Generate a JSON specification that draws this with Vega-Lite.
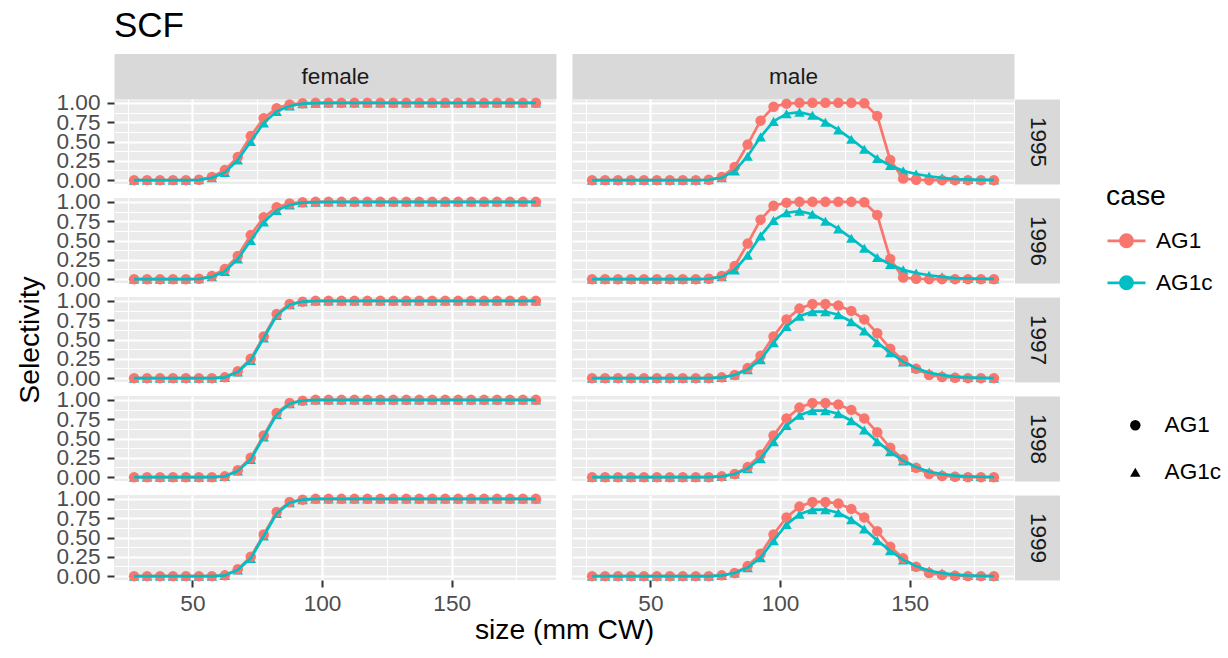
{
"$schema":"https://vega.github.io/schema/vega-lite/v6.json",
"title":{"text":"SCF","anchor":"start","frame":"group","fontSize":35,"fontWeight":"normal","color":"#000000","offset":21},
"padding":{"left":15,"top":9,"right":5,"bottom":5},
"data":{"values":[
{"sex":"female","year":1995,"size":27.5,"AG1":0,"AG1c":0},{"sex":"female","year":1995,"size":32.5,"AG1":0,"AG1c":0},{"sex":"female","year":1995,"size":37.5,"AG1":0,"AG1c":0},{"sex":"female","year":1995,"size":42.5,"AG1":0,"AG1c":0},{"sex":"female","year":1995,"size":47.5,"AG1":0,"AG1c":0},{"sex":"female","year":1995,"size":52.5,"AG1":0.005,"AG1c":0.004},{"sex":"female","year":1995,"size":57.5,"AG1":0.04,"AG1c":0.03},{"sex":"female","year":1995,"size":62.5,"AG1":0.13,"AG1c":0.10},{"sex":"female","year":1995,"size":67.5,"AG1":0.30,"AG1c":0.26},{"sex":"female","year":1995,"size":72.5,"AG1":0.57,"AG1c":0.50},{"sex":"female","year":1995,"size":77.5,"AG1":0.80,"AG1c":0.74},{"sex":"female","year":1995,"size":82.5,"AG1":0.93,"AG1c":0.89},{"sex":"female","year":1995,"size":87.5,"AG1":0.98,"AG1c":0.96},{"sex":"female","year":1995,"size":92.5,"AG1":0.995,"AG1c":0.99},{"sex":"female","year":1995,"size":97.5,"AG1":1,"AG1c":0.997},{"sex":"female","year":1995,"size":102.5,"AG1":1,"AG1c":1},{"sex":"female","year":1995,"size":107.5,"AG1":1,"AG1c":1},{"sex":"female","year":1995,"size":112.5,"AG1":1,"AG1c":1},{"sex":"female","year":1995,"size":117.5,"AG1":1,"AG1c":1},{"sex":"female","year":1995,"size":122.5,"AG1":1,"AG1c":1},{"sex":"female","year":1995,"size":127.5,"AG1":1,"AG1c":1},{"sex":"female","year":1995,"size":132.5,"AG1":1,"AG1c":1},{"sex":"female","year":1995,"size":137.5,"AG1":1,"AG1c":1},{"sex":"female","year":1995,"size":142.5,"AG1":1,"AG1c":1},{"sex":"female","year":1995,"size":147.5,"AG1":1,"AG1c":1},{"sex":"female","year":1995,"size":152.5,"AG1":1,"AG1c":1},{"sex":"female","year":1995,"size":157.5,"AG1":1,"AG1c":1},{"sex":"female","year":1995,"size":162.5,"AG1":1,"AG1c":1},{"sex":"female","year":1995,"size":167.5,"AG1":1,"AG1c":1},{"sex":"female","year":1995,"size":172.5,"AG1":1,"AG1c":1},{"sex":"female","year":1995,"size":177.5,"AG1":1,"AG1c":1},{"sex":"female","year":1995,"size":182.5,"AG1":1,"AG1c":1},
{"sex":"female","year":1996,"size":27.5,"AG1":0,"AG1c":0},{"sex":"female","year":1996,"size":32.5,"AG1":0,"AG1c":0},{"sex":"female","year":1996,"size":37.5,"AG1":0,"AG1c":0},{"sex":"female","year":1996,"size":42.5,"AG1":0,"AG1c":0},{"sex":"female","year":1996,"size":47.5,"AG1":0,"AG1c":0},{"sex":"female","year":1996,"size":52.5,"AG1":0.005,"AG1c":0.004},{"sex":"female","year":1996,"size":57.5,"AG1":0.04,"AG1c":0.03},{"sex":"female","year":1996,"size":62.5,"AG1":0.13,"AG1c":0.10},{"sex":"female","year":1996,"size":67.5,"AG1":0.30,"AG1c":0.26},{"sex":"female","year":1996,"size":72.5,"AG1":0.57,"AG1c":0.50},{"sex":"female","year":1996,"size":77.5,"AG1":0.80,"AG1c":0.74},{"sex":"female","year":1996,"size":82.5,"AG1":0.93,"AG1c":0.89},{"sex":"female","year":1996,"size":87.5,"AG1":0.98,"AG1c":0.96},{"sex":"female","year":1996,"size":92.5,"AG1":0.995,"AG1c":0.99},{"sex":"female","year":1996,"size":97.5,"AG1":1,"AG1c":0.997},{"sex":"female","year":1996,"size":102.5,"AG1":1,"AG1c":1},{"sex":"female","year":1996,"size":107.5,"AG1":1,"AG1c":1},{"sex":"female","year":1996,"size":112.5,"AG1":1,"AG1c":1},{"sex":"female","year":1996,"size":117.5,"AG1":1,"AG1c":1},{"sex":"female","year":1996,"size":122.5,"AG1":1,"AG1c":1},{"sex":"female","year":1996,"size":127.5,"AG1":1,"AG1c":1},{"sex":"female","year":1996,"size":132.5,"AG1":1,"AG1c":1},{"sex":"female","year":1996,"size":137.5,"AG1":1,"AG1c":1},{"sex":"female","year":1996,"size":142.5,"AG1":1,"AG1c":1},{"sex":"female","year":1996,"size":147.5,"AG1":1,"AG1c":1},{"sex":"female","year":1996,"size":152.5,"AG1":1,"AG1c":1},{"sex":"female","year":1996,"size":157.5,"AG1":1,"AG1c":1},{"sex":"female","year":1996,"size":162.5,"AG1":1,"AG1c":1},{"sex":"female","year":1996,"size":167.5,"AG1":1,"AG1c":1},{"sex":"female","year":1996,"size":172.5,"AG1":1,"AG1c":1},{"sex":"female","year":1996,"size":177.5,"AG1":1,"AG1c":1},{"sex":"female","year":1996,"size":182.5,"AG1":1,"AG1c":1},
{"sex":"female","year":1997,"size":27.5,"AG1":0,"AG1c":0},{"sex":"female","year":1997,"size":32.5,"AG1":0,"AG1c":0},{"sex":"female","year":1997,"size":37.5,"AG1":0,"AG1c":0},{"sex":"female","year":1997,"size":42.5,"AG1":0,"AG1c":0},{"sex":"female","year":1997,"size":47.5,"AG1":0,"AG1c":0},{"sex":"female","year":1997,"size":52.5,"AG1":0,"AG1c":0},{"sex":"female","year":1997,"size":57.5,"AG1":0,"AG1c":0},{"sex":"female","year":1997,"size":62.5,"AG1":0.01,"AG1c":0.01},{"sex":"female","year":1997,"size":67.5,"AG1":0.09,"AG1c":0.08},{"sex":"female","year":1997,"size":72.5,"AG1":0.25,"AG1c":0.23},{"sex":"female","year":1997,"size":77.5,"AG1":0.54,"AG1c":0.52},{"sex":"female","year":1997,"size":82.5,"AG1":0.83,"AG1c":0.81},{"sex":"female","year":1997,"size":87.5,"AG1":0.96,"AG1c":0.95},{"sex":"female","year":1997,"size":92.5,"AG1":0.99,"AG1c":0.99},{"sex":"female","year":1997,"size":97.5,"AG1":1,"AG1c":1},{"sex":"female","year":1997,"size":102.5,"AG1":1,"AG1c":1},{"sex":"female","year":1997,"size":107.5,"AG1":1,"AG1c":1},{"sex":"female","year":1997,"size":112.5,"AG1":1,"AG1c":1},{"sex":"female","year":1997,"size":117.5,"AG1":1,"AG1c":1},{"sex":"female","year":1997,"size":122.5,"AG1":1,"AG1c":1},{"sex":"female","year":1997,"size":127.5,"AG1":1,"AG1c":1},{"sex":"female","year":1997,"size":132.5,"AG1":1,"AG1c":1},{"sex":"female","year":1997,"size":137.5,"AG1":1,"AG1c":1},{"sex":"female","year":1997,"size":142.5,"AG1":1,"AG1c":1},{"sex":"female","year":1997,"size":147.5,"AG1":1,"AG1c":1},{"sex":"female","year":1997,"size":152.5,"AG1":1,"AG1c":1},{"sex":"female","year":1997,"size":157.5,"AG1":1,"AG1c":1},{"sex":"female","year":1997,"size":162.5,"AG1":1,"AG1c":1},{"sex":"female","year":1997,"size":167.5,"AG1":1,"AG1c":1},{"sex":"female","year":1997,"size":172.5,"AG1":1,"AG1c":1},{"sex":"female","year":1997,"size":177.5,"AG1":1,"AG1c":1},{"sex":"female","year":1997,"size":182.5,"AG1":1,"AG1c":1},
{"sex":"female","year":1998,"size":27.5,"AG1":0,"AG1c":0},{"sex":"female","year":1998,"size":32.5,"AG1":0,"AG1c":0},{"sex":"female","year":1998,"size":37.5,"AG1":0,"AG1c":0},{"sex":"female","year":1998,"size":42.5,"AG1":0,"AG1c":0},{"sex":"female","year":1998,"size":47.5,"AG1":0,"AG1c":0},{"sex":"female","year":1998,"size":52.5,"AG1":0,"AG1c":0},{"sex":"female","year":1998,"size":57.5,"AG1":0,"AG1c":0},{"sex":"female","year":1998,"size":62.5,"AG1":0.01,"AG1c":0.01},{"sex":"female","year":1998,"size":67.5,"AG1":0.09,"AG1c":0.08},{"sex":"female","year":1998,"size":72.5,"AG1":0.25,"AG1c":0.23},{"sex":"female","year":1998,"size":77.5,"AG1":0.54,"AG1c":0.52},{"sex":"female","year":1998,"size":82.5,"AG1":0.83,"AG1c":0.81},{"sex":"female","year":1998,"size":87.5,"AG1":0.96,"AG1c":0.95},{"sex":"female","year":1998,"size":92.5,"AG1":0.99,"AG1c":0.99},{"sex":"female","year":1998,"size":97.5,"AG1":1,"AG1c":1},{"sex":"female","year":1998,"size":102.5,"AG1":1,"AG1c":1},{"sex":"female","year":1998,"size":107.5,"AG1":1,"AG1c":1},{"sex":"female","year":1998,"size":112.5,"AG1":1,"AG1c":1},{"sex":"female","year":1998,"size":117.5,"AG1":1,"AG1c":1},{"sex":"female","year":1998,"size":122.5,"AG1":1,"AG1c":1},{"sex":"female","year":1998,"size":127.5,"AG1":1,"AG1c":1},{"sex":"female","year":1998,"size":132.5,"AG1":1,"AG1c":1},{"sex":"female","year":1998,"size":137.5,"AG1":1,"AG1c":1},{"sex":"female","year":1998,"size":142.5,"AG1":1,"AG1c":1},{"sex":"female","year":1998,"size":147.5,"AG1":1,"AG1c":1},{"sex":"female","year":1998,"size":152.5,"AG1":1,"AG1c":1},{"sex":"female","year":1998,"size":157.5,"AG1":1,"AG1c":1},{"sex":"female","year":1998,"size":162.5,"AG1":1,"AG1c":1},{"sex":"female","year":1998,"size":167.5,"AG1":1,"AG1c":1},{"sex":"female","year":1998,"size":172.5,"AG1":1,"AG1c":1},{"sex":"female","year":1998,"size":177.5,"AG1":1,"AG1c":1},{"sex":"female","year":1998,"size":182.5,"AG1":1,"AG1c":1},
{"sex":"female","year":1999,"size":27.5,"AG1":0,"AG1c":0},{"sex":"female","year":1999,"size":32.5,"AG1":0,"AG1c":0},{"sex":"female","year":1999,"size":37.5,"AG1":0,"AG1c":0},{"sex":"female","year":1999,"size":42.5,"AG1":0,"AG1c":0},{"sex":"female","year":1999,"size":47.5,"AG1":0,"AG1c":0},{"sex":"female","year":1999,"size":52.5,"AG1":0,"AG1c":0},{"sex":"female","year":1999,"size":57.5,"AG1":0,"AG1c":0},{"sex":"female","year":1999,"size":62.5,"AG1":0.01,"AG1c":0.01},{"sex":"female","year":1999,"size":67.5,"AG1":0.09,"AG1c":0.08},{"sex":"female","year":1999,"size":72.5,"AG1":0.25,"AG1c":0.23},{"sex":"female","year":1999,"size":77.5,"AG1":0.54,"AG1c":0.52},{"sex":"female","year":1999,"size":82.5,"AG1":0.83,"AG1c":0.81},{"sex":"female","year":1999,"size":87.5,"AG1":0.96,"AG1c":0.95},{"sex":"female","year":1999,"size":92.5,"AG1":0.99,"AG1c":0.99},{"sex":"female","year":1999,"size":97.5,"AG1":1,"AG1c":1},{"sex":"female","year":1999,"size":102.5,"AG1":1,"AG1c":1},{"sex":"female","year":1999,"size":107.5,"AG1":1,"AG1c":1},{"sex":"female","year":1999,"size":112.5,"AG1":1,"AG1c":1},{"sex":"female","year":1999,"size":117.5,"AG1":1,"AG1c":1},{"sex":"female","year":1999,"size":122.5,"AG1":1,"AG1c":1},{"sex":"female","year":1999,"size":127.5,"AG1":1,"AG1c":1},{"sex":"female","year":1999,"size":132.5,"AG1":1,"AG1c":1},{"sex":"female","year":1999,"size":137.5,"AG1":1,"AG1c":1},{"sex":"female","year":1999,"size":142.5,"AG1":1,"AG1c":1},{"sex":"female","year":1999,"size":147.5,"AG1":1,"AG1c":1},{"sex":"female","year":1999,"size":152.5,"AG1":1,"AG1c":1},{"sex":"female","year":1999,"size":157.5,"AG1":1,"AG1c":1},{"sex":"female","year":1999,"size":162.5,"AG1":1,"AG1c":1},{"sex":"female","year":1999,"size":167.5,"AG1":1,"AG1c":1},{"sex":"female","year":1999,"size":172.5,"AG1":1,"AG1c":1},{"sex":"female","year":1999,"size":177.5,"AG1":1,"AG1c":1},{"sex":"female","year":1999,"size":182.5,"AG1":1,"AG1c":1},
{"sex":"male","year":1995,"size":27.5,"AG1":0,"AG1c":0},{"sex":"male","year":1995,"size":32.5,"AG1":0,"AG1c":0},{"sex":"male","year":1995,"size":37.5,"AG1":0,"AG1c":0},{"sex":"male","year":1995,"size":42.5,"AG1":0,"AG1c":0},{"sex":"male","year":1995,"size":47.5,"AG1":0,"AG1c":0},{"sex":"male","year":1995,"size":52.5,"AG1":0,"AG1c":0},{"sex":"male","year":1995,"size":57.5,"AG1":0,"AG1c":0},{"sex":"male","year":1995,"size":62.5,"AG1":0,"AG1c":0},{"sex":"male","year":1995,"size":67.5,"AG1":0,"AG1c":0},{"sex":"male","year":1995,"size":72.5,"AG1":0.005,"AG1c":0.005},{"sex":"male","year":1995,"size":77.5,"AG1":0.04,"AG1c":0.03},{"sex":"male","year":1995,"size":82.5,"AG1":0.17,"AG1c":0.12},{"sex":"male","year":1995,"size":87.5,"AG1":0.46,"AG1c":0.31},{"sex":"male","year":1995,"size":92.5,"AG1":0.77,"AG1c":0.56},{"sex":"male","year":1995,"size":97.5,"AG1":0.95,"AG1c":0.76},{"sex":"male","year":1995,"size":102.5,"AG1":0.99,"AG1c":0.86},{"sex":"male","year":1995,"size":107.5,"AG1":1,"AG1c":0.88},{"sex":"male","year":1995,"size":112.5,"AG1":1,"AG1c":0.84},{"sex":"male","year":1995,"size":117.5,"AG1":1,"AG1c":0.75},{"sex":"male","year":1995,"size":122.5,"AG1":1,"AG1c":0.65},{"sex":"male","year":1995,"size":127.5,"AG1":1,"AG1c":0.53},{"sex":"male","year":1995,"size":132.5,"AG1":0.995,"AG1c":0.40},{"sex":"male","year":1995,"size":137.5,"AG1":0.83,"AG1c":0.28},{"sex":"male","year":1995,"size":142.5,"AG1":0.26,"AG1c":0.19},{"sex":"male","year":1995,"size":147.5,"AG1":0.02,"AG1c":0.12},{"sex":"male","year":1995,"size":152.5,"AG1":0.005,"AG1c":0.08},{"sex":"male","year":1995,"size":157.5,"AG1":0,"AG1c":0.05},{"sex":"male","year":1995,"size":162.5,"AG1":0,"AG1c":0.03},{"sex":"male","year":1995,"size":167.5,"AG1":0,"AG1c":0.015},{"sex":"male","year":1995,"size":172.5,"AG1":0,"AG1c":0.01},{"sex":"male","year":1995,"size":177.5,"AG1":0,"AG1c":0.005},{"sex":"male","year":1995,"size":182.5,"AG1":0,"AG1c":0.003},
{"sex":"male","year":1996,"size":27.5,"AG1":0,"AG1c":0},{"sex":"male","year":1996,"size":32.5,"AG1":0,"AG1c":0},{"sex":"male","year":1996,"size":37.5,"AG1":0,"AG1c":0},{"sex":"male","year":1996,"size":42.5,"AG1":0,"AG1c":0},{"sex":"male","year":1996,"size":47.5,"AG1":0,"AG1c":0},{"sex":"male","year":1996,"size":52.5,"AG1":0,"AG1c":0},{"sex":"male","year":1996,"size":57.5,"AG1":0,"AG1c":0},{"sex":"male","year":1996,"size":62.5,"AG1":0,"AG1c":0},{"sex":"male","year":1996,"size":67.5,"AG1":0,"AG1c":0},{"sex":"male","year":1996,"size":72.5,"AG1":0.005,"AG1c":0.005},{"sex":"male","year":1996,"size":77.5,"AG1":0.04,"AG1c":0.03},{"sex":"male","year":1996,"size":82.5,"AG1":0.17,"AG1c":0.12},{"sex":"male","year":1996,"size":87.5,"AG1":0.46,"AG1c":0.31},{"sex":"male","year":1996,"size":92.5,"AG1":0.77,"AG1c":0.56},{"sex":"male","year":1996,"size":97.5,"AG1":0.95,"AG1c":0.76},{"sex":"male","year":1996,"size":102.5,"AG1":0.99,"AG1c":0.86},{"sex":"male","year":1996,"size":107.5,"AG1":1,"AG1c":0.88},{"sex":"male","year":1996,"size":112.5,"AG1":1,"AG1c":0.84},{"sex":"male","year":1996,"size":117.5,"AG1":1,"AG1c":0.75},{"sex":"male","year":1996,"size":122.5,"AG1":1,"AG1c":0.65},{"sex":"male","year":1996,"size":127.5,"AG1":1,"AG1c":0.53},{"sex":"male","year":1996,"size":132.5,"AG1":0.995,"AG1c":0.40},{"sex":"male","year":1996,"size":137.5,"AG1":0.83,"AG1c":0.28},{"sex":"male","year":1996,"size":142.5,"AG1":0.26,"AG1c":0.19},{"sex":"male","year":1996,"size":147.5,"AG1":0.02,"AG1c":0.12},{"sex":"male","year":1996,"size":152.5,"AG1":0.005,"AG1c":0.08},{"sex":"male","year":1996,"size":157.5,"AG1":0,"AG1c":0.05},{"sex":"male","year":1996,"size":162.5,"AG1":0,"AG1c":0.03},{"sex":"male","year":1996,"size":167.5,"AG1":0,"AG1c":0.015},{"sex":"male","year":1996,"size":172.5,"AG1":0,"AG1c":0.01},{"sex":"male","year":1996,"size":177.5,"AG1":0,"AG1c":0.005},{"sex":"male","year":1996,"size":182.5,"AG1":0,"AG1c":0.003},
{"sex":"male","year":1997,"size":27.5,"AG1":0,"AG1c":0},{"sex":"male","year":1997,"size":32.5,"AG1":0,"AG1c":0},{"sex":"male","year":1997,"size":37.5,"AG1":0,"AG1c":0},{"sex":"male","year":1997,"size":42.5,"AG1":0,"AG1c":0},{"sex":"male","year":1997,"size":47.5,"AG1":0,"AG1c":0},{"sex":"male","year":1997,"size":52.5,"AG1":0,"AG1c":0},{"sex":"male","year":1997,"size":57.5,"AG1":0,"AG1c":0},{"sex":"male","year":1997,"size":62.5,"AG1":0,"AG1c":0},{"sex":"male","year":1997,"size":67.5,"AG1":0,"AG1c":0},{"sex":"male","year":1997,"size":72.5,"AG1":0,"AG1c":0},{"sex":"male","year":1997,"size":77.5,"AG1":0.01,"AG1c":0.01},{"sex":"male","year":1997,"size":82.5,"AG1":0.04,"AG1c":0.04},{"sex":"male","year":1997,"size":87.5,"AG1":0.13,"AG1c":0.11},{"sex":"male","year":1997,"size":92.5,"AG1":0.29,"AG1c":0.24},{"sex":"male","year":1997,"size":97.5,"AG1":0.54,"AG1c":0.46},{"sex":"male","year":1997,"size":102.5,"AG1":0.76,"AG1c":0.67},{"sex":"male","year":1997,"size":107.5,"AG1":0.90,"AG1c":0.80},{"sex":"male","year":1997,"size":112.5,"AG1":0.96,"AG1c":0.86},{"sex":"male","year":1997,"size":117.5,"AG1":0.96,"AG1c":0.86},{"sex":"male","year":1997,"size":122.5,"AG1":0.94,"AG1c":0.82},{"sex":"male","year":1997,"size":127.5,"AG1":0.87,"AG1c":0.73},{"sex":"male","year":1997,"size":132.5,"AG1":0.76,"AG1c":0.61},{"sex":"male","year":1997,"size":137.5,"AG1":0.58,"AG1c":0.46},{"sex":"male","year":1997,"size":142.5,"AG1":0.38,"AG1c":0.33},{"sex":"male","year":1997,"size":147.5,"AG1":0.23,"AG1c":0.21},{"sex":"male","year":1997,"size":152.5,"AG1":0.12,"AG1c":0.13},{"sex":"male","year":1997,"size":157.5,"AG1":0.04,"AG1c":0.07},{"sex":"male","year":1997,"size":162.5,"AG1":0.015,"AG1c":0.04},{"sex":"male","year":1997,"size":167.5,"AG1":0.005,"AG1c":0.02},{"sex":"male","year":1997,"size":172.5,"AG1":0,"AG1c":0.01},{"sex":"male","year":1997,"size":177.5,"AG1":0,"AG1c":0.005},{"sex":"male","year":1997,"size":182.5,"AG1":0,"AG1c":0},
{"sex":"male","year":1998,"size":27.5,"AG1":0,"AG1c":0},{"sex":"male","year":1998,"size":32.5,"AG1":0,"AG1c":0},{"sex":"male","year":1998,"size":37.5,"AG1":0,"AG1c":0},{"sex":"male","year":1998,"size":42.5,"AG1":0,"AG1c":0},{"sex":"male","year":1998,"size":47.5,"AG1":0,"AG1c":0},{"sex":"male","year":1998,"size":52.5,"AG1":0,"AG1c":0},{"sex":"male","year":1998,"size":57.5,"AG1":0,"AG1c":0},{"sex":"male","year":1998,"size":62.5,"AG1":0,"AG1c":0},{"sex":"male","year":1998,"size":67.5,"AG1":0,"AG1c":0},{"sex":"male","year":1998,"size":72.5,"AG1":0,"AG1c":0},{"sex":"male","year":1998,"size":77.5,"AG1":0.01,"AG1c":0.01},{"sex":"male","year":1998,"size":82.5,"AG1":0.04,"AG1c":0.04},{"sex":"male","year":1998,"size":87.5,"AG1":0.13,"AG1c":0.11},{"sex":"male","year":1998,"size":92.5,"AG1":0.29,"AG1c":0.24},{"sex":"male","year":1998,"size":97.5,"AG1":0.54,"AG1c":0.46},{"sex":"male","year":1998,"size":102.5,"AG1":0.76,"AG1c":0.67},{"sex":"male","year":1998,"size":107.5,"AG1":0.90,"AG1c":0.80},{"sex":"male","year":1998,"size":112.5,"AG1":0.96,"AG1c":0.86},{"sex":"male","year":1998,"size":117.5,"AG1":0.96,"AG1c":0.86},{"sex":"male","year":1998,"size":122.5,"AG1":0.94,"AG1c":0.82},{"sex":"male","year":1998,"size":127.5,"AG1":0.87,"AG1c":0.73},{"sex":"male","year":1998,"size":132.5,"AG1":0.76,"AG1c":0.61},{"sex":"male","year":1998,"size":137.5,"AG1":0.58,"AG1c":0.46},{"sex":"male","year":1998,"size":142.5,"AG1":0.38,"AG1c":0.33},{"sex":"male","year":1998,"size":147.5,"AG1":0.23,"AG1c":0.21},{"sex":"male","year":1998,"size":152.5,"AG1":0.12,"AG1c":0.13},{"sex":"male","year":1998,"size":157.5,"AG1":0.04,"AG1c":0.07},{"sex":"male","year":1998,"size":162.5,"AG1":0.015,"AG1c":0.04},{"sex":"male","year":1998,"size":167.5,"AG1":0.005,"AG1c":0.02},{"sex":"male","year":1998,"size":172.5,"AG1":0,"AG1c":0.01},{"sex":"male","year":1998,"size":177.5,"AG1":0,"AG1c":0.005},{"sex":"male","year":1998,"size":182.5,"AG1":0,"AG1c":0},
{"sex":"male","year":1999,"size":27.5,"AG1":0,"AG1c":0},{"sex":"male","year":1999,"size":32.5,"AG1":0,"AG1c":0},{"sex":"male","year":1999,"size":37.5,"AG1":0,"AG1c":0},{"sex":"male","year":1999,"size":42.5,"AG1":0,"AG1c":0},{"sex":"male","year":1999,"size":47.5,"AG1":0,"AG1c":0},{"sex":"male","year":1999,"size":52.5,"AG1":0,"AG1c":0},{"sex":"male","year":1999,"size":57.5,"AG1":0,"AG1c":0},{"sex":"male","year":1999,"size":62.5,"AG1":0,"AG1c":0},{"sex":"male","year":1999,"size":67.5,"AG1":0,"AG1c":0},{"sex":"male","year":1999,"size":72.5,"AG1":0,"AG1c":0},{"sex":"male","year":1999,"size":77.5,"AG1":0.01,"AG1c":0.01},{"sex":"male","year":1999,"size":82.5,"AG1":0.04,"AG1c":0.04},{"sex":"male","year":1999,"size":87.5,"AG1":0.13,"AG1c":0.11},{"sex":"male","year":1999,"size":92.5,"AG1":0.29,"AG1c":0.24},{"sex":"male","year":1999,"size":97.5,"AG1":0.54,"AG1c":0.46},{"sex":"male","year":1999,"size":102.5,"AG1":0.76,"AG1c":0.67},{"sex":"male","year":1999,"size":107.5,"AG1":0.90,"AG1c":0.80},{"sex":"male","year":1999,"size":112.5,"AG1":0.96,"AG1c":0.86},{"sex":"male","year":1999,"size":117.5,"AG1":0.96,"AG1c":0.86},{"sex":"male","year":1999,"size":122.5,"AG1":0.94,"AG1c":0.82},{"sex":"male","year":1999,"size":127.5,"AG1":0.87,"AG1c":0.73},{"sex":"male","year":1999,"size":132.5,"AG1":0.76,"AG1c":0.61},{"sex":"male","year":1999,"size":137.5,"AG1":0.58,"AG1c":0.46},{"sex":"male","year":1999,"size":142.5,"AG1":0.38,"AG1c":0.33},{"sex":"male","year":1999,"size":147.5,"AG1":0.23,"AG1c":0.21},{"sex":"male","year":1999,"size":152.5,"AG1":0.12,"AG1c":0.13},{"sex":"male","year":1999,"size":157.5,"AG1":0.04,"AG1c":0.07},{"sex":"male","year":1999,"size":162.5,"AG1":0.015,"AG1c":0.04},{"sex":"male","year":1999,"size":167.5,"AG1":0.005,"AG1c":0.02},{"sex":"male","year":1999,"size":172.5,"AG1":0,"AG1c":0.01},{"sex":"male","year":1999,"size":177.5,"AG1":0,"AG1c":0.005},{"sex":"male","year":1999,"size":182.5,"AG1":0,"AG1c":0}
]},
"transform":[{"fold":["AG1","AG1c"],"as":["case","sel"]}],
"columns":2,
"spacing":{"row":14,"column":16},
"bounds":"flush",
"concat":[
{"width":442,"height":85,"transform":[{"filter":"datum.sex === 'female' && datum.year === 1995"}],
 "encoding":{
  "x":{"field":"size","type":"quantitative","scale":{"domain":[19.75,190.25],"nice":false,"zero":false},"axis":{"orient":"top","values":[25,50,75,100,125,150,175],"grid":true,"gridWidth":{"condition":{"test":"datum.value % 50 === 0","value":2.2},"value":1.1},"labels":false,"ticks":false,"domain":true,"domainColor":"#D9D9D9","domainWidth":45,"domainCap":"butt","offset":23,"title":"female","titleX":221,"titleY":0,"titleAlign":"center","titleBaseline":"middle","titleAngle":0,"titleFontSize":22.6,"titleColor":"#1A1A1A"}},
  "y":{"field":"sel","type":"quantitative","scale":{"domain":[-0.05,1.05],"nice":false,"zero":false},"axis":{"orient":"left","values":[0,0.125,0.25,0.375,0.5,0.625,0.75,0.875,1],"grid":true,"gridWidth":{"condition":{"test":"datum.value * 4 % 1 === 0","value":2.2},"value":1.1},"labelExpr":"datum.value * 4 % 1 === 0 ? format(datum.value, '.2f') : ''","tickSize":7,"tickWidth":2,"tickOpacity":{"condition":{"test":"datum.value * 4 % 1 === 0","value":1},"value":0},"labelPadding":7,"labelBaseline":"middle","title":null}},
  "color":{"field":"case","type":"nominal","scale":{"domain":["AG1","AG1c"],"range":["#F8766D","#00BFC4"]},"legend":{"title":"case","orient":"none","legendX":992,"legendY":84,"symbolType":"M-1,0L1,0M0.32,0A0.32,0.32,0,1,1,-0.32,0A0.32,0.32,0,1,1,0.32,0","symbolSize":1444,"symbolStrokeWidth":2.7,"labelFontSize":22.6,"labelColor":"#000000","titleFontSize":28.3,"titleFontWeight":"normal","titleColor":"#000000","titlePadding":9,"rowPadding":9,"labelOffset":9,"padding":0,"encode":{"symbols":{"update":{"fill":{"scale":"color","field":"value"},"stroke":{"scale":"color","field":"value"},"strokeWidth":{"value":2.7},"opacity":{"value":1}}}}}}
 },
 "layer":[
  {"mark":{"type":"point","filled":true,"size":110,"opacity":1},"encoding":{"shape":{"field":"case","type":"nominal","scale":{"range":["circle","triangle-up"]},"legend":{"title":null,"orient":"none","legendX":1010,"legendY":315,"symbolSize":110,"labelFontSize":22.6,"labelColor":"#000000","labelOffset":18,"rowPadding":24,"padding":0,"encode":{"symbols":{"update":{"fill":{"value":"#000000"},"stroke":{"value":"#000000"},"opacity":{"value":1}}}}}},"order":{"field":"case","sort":"descending"}}},
  {"mark":{"type":"line","strokeWidth":2.7},"encoding":{}}
 ]},
{"width":442,"height":85,"transform":[{"filter":"datum.sex === 'male' && datum.year === 1995"}],
 "encoding":{
  "x":{"field":"size","type":"quantitative","scale":{"domain":[19.75,190.25],"nice":false,"zero":false},"axis":{"orient":"top","values":[25,50,75,100,125,150,175],"grid":true,"gridWidth":{"condition":{"test":"datum.value % 50 === 0","value":2.2},"value":1.1},"labels":false,"ticks":false,"domain":true,"domainColor":"#D9D9D9","domainWidth":45,"domainCap":"butt","offset":23,"title":"male","titleX":221,"titleY":0,"titleAlign":"center","titleBaseline":"middle","titleAngle":0,"titleFontSize":22.6,"titleColor":"#1A1A1A"}},
  "y":{"field":"sel","type":"quantitative","scale":{"domain":[-0.05,1.05],"nice":false,"zero":false},"axis":{"orient":"right","values":[0,0.125,0.25,0.375,0.5,0.625,0.75,0.875,1],"grid":true,"gridWidth":{"condition":{"test":"datum.value * 4 % 1 === 0","value":2.2},"value":1.1},"labels":false,"ticks":false,"domain":true,"domainColor":"#D9D9D9","domainWidth":45,"domainCap":"butt","offset":23,"title":"1995","titleX":0,"titleY":42.5,"titleAlign":"center","titleBaseline":"middle","titleAngle":90,"titleFontSize":22.6,"titleColor":"#1A1A1A"}},
  "color":{"field":"case","type":"nominal","scale":{"domain":["AG1","AG1c"],"range":["#F8766D","#00BFC4"]},"legend":null}
 },
 "layer":[
  {"mark":{"type":"point","filled":true,"size":110,"opacity":1},"encoding":{"shape":{"field":"case","type":"nominal","scale":{"range":["circle","triangle-up"]},"legend":null},"order":{"field":"case","sort":"descending"}}},
  {"mark":{"type":"line","strokeWidth":2.7},"encoding":{}}
 ]},
{"width":442,"height":85,"transform":[{"filter":"datum.sex === 'female' && datum.year === 1996"}],
 "encoding":{
  "x":{"field":"size","type":"quantitative","scale":{"domain":[19.75,190.25],"nice":false,"zero":false},"axis":{"orient":"bottom","values":[25,50,75,100,125,150,175],"grid":true,"gridWidth":{"condition":{"test":"datum.value % 50 === 0","value":2.2},"value":1.1},"labels":false,"ticks":false,"title":null}},
  "y":{"field":"sel","type":"quantitative","scale":{"domain":[-0.05,1.05],"nice":false,"zero":false},"axis":{"orient":"left","values":[0,0.125,0.25,0.375,0.5,0.625,0.75,0.875,1],"grid":true,"gridWidth":{"condition":{"test":"datum.value * 4 % 1 === 0","value":2.2},"value":1.1},"labelExpr":"datum.value * 4 % 1 === 0 ? format(datum.value, '.2f') : ''","tickSize":7,"tickWidth":2,"tickOpacity":{"condition":{"test":"datum.value * 4 % 1 === 0","value":1},"value":0},"labelPadding":7,"labelBaseline":"middle","title":null}},
  "color":{"field":"case","type":"nominal","scale":{"domain":["AG1","AG1c"],"range":["#F8766D","#00BFC4"]},"legend":null}
 },
 "layer":[
  {"mark":{"type":"point","filled":true,"size":110,"opacity":1},"encoding":{"shape":{"field":"case","type":"nominal","scale":{"range":["circle","triangle-up"]},"legend":null},"order":{"field":"case","sort":"descending"}}},
  {"mark":{"type":"line","strokeWidth":2.7},"encoding":{}}
 ]},
{"width":442,"height":85,"transform":[{"filter":"datum.sex === 'male' && datum.year === 1996"}],
 "encoding":{
  "x":{"field":"size","type":"quantitative","scale":{"domain":[19.75,190.25],"nice":false,"zero":false},"axis":{"orient":"bottom","values":[25,50,75,100,125,150,175],"grid":true,"gridWidth":{"condition":{"test":"datum.value % 50 === 0","value":2.2},"value":1.1},"labels":false,"ticks":false,"title":null}},
  "y":{"field":"sel","type":"quantitative","scale":{"domain":[-0.05,1.05],"nice":false,"zero":false},"axis":{"orient":"right","values":[0,0.125,0.25,0.375,0.5,0.625,0.75,0.875,1],"grid":true,"gridWidth":{"condition":{"test":"datum.value * 4 % 1 === 0","value":2.2},"value":1.1},"labels":false,"ticks":false,"domain":true,"domainColor":"#D9D9D9","domainWidth":45,"domainCap":"butt","offset":23,"title":"1996","titleX":0,"titleY":42.5,"titleAlign":"center","titleBaseline":"middle","titleAngle":90,"titleFontSize":22.6,"titleColor":"#1A1A1A"}},
  "color":{"field":"case","type":"nominal","scale":{"domain":["AG1","AG1c"],"range":["#F8766D","#00BFC4"]},"legend":null}
 },
 "layer":[
  {"mark":{"type":"point","filled":true,"size":110,"opacity":1},"encoding":{"shape":{"field":"case","type":"nominal","scale":{"range":["circle","triangle-up"]},"legend":null},"order":{"field":"case","sort":"descending"}}},
  {"mark":{"type":"line","strokeWidth":2.7},"encoding":{}}
 ]},
{"width":442,"height":85,"transform":[{"filter":"datum.sex === 'female' && datum.year === 1997"}],
 "encoding":{
  "x":{"field":"size","type":"quantitative","scale":{"domain":[19.75,190.25],"nice":false,"zero":false},"axis":{"orient":"bottom","values":[25,50,75,100,125,150,175],"grid":true,"gridWidth":{"condition":{"test":"datum.value % 50 === 0","value":2.2},"value":1.1},"labels":false,"ticks":false,"title":null}},
  "y":{"field":"sel","type":"quantitative","scale":{"domain":[-0.05,1.05],"nice":false,"zero":false},"axis":{"orient":"left","values":[0,0.125,0.25,0.375,0.5,0.625,0.75,0.875,1],"grid":true,"gridWidth":{"condition":{"test":"datum.value * 4 % 1 === 0","value":2.2},"value":1.1},"labelExpr":"datum.value * 4 % 1 === 0 ? format(datum.value, '.2f') : ''","tickSize":7,"tickWidth":2,"tickOpacity":{"condition":{"test":"datum.value * 4 % 1 === 0","value":1},"value":0},"labelPadding":7,"labelBaseline":"middle","title":"Selectivity","titlePadding":12}},
  "color":{"field":"case","type":"nominal","scale":{"domain":["AG1","AG1c"],"range":["#F8766D","#00BFC4"]},"legend":null}
 },
 "layer":[
  {"mark":{"type":"point","filled":true,"size":110,"opacity":1},"encoding":{"shape":{"field":"case","type":"nominal","scale":{"range":["circle","triangle-up"]},"legend":null},"order":{"field":"case","sort":"descending"}}},
  {"mark":{"type":"line","strokeWidth":2.7},"encoding":{}}
 ]},
{"width":442,"height":85,"transform":[{"filter":"datum.sex === 'male' && datum.year === 1997"}],
 "encoding":{
  "x":{"field":"size","type":"quantitative","scale":{"domain":[19.75,190.25],"nice":false,"zero":false},"axis":{"orient":"bottom","values":[25,50,75,100,125,150,175],"grid":true,"gridWidth":{"condition":{"test":"datum.value % 50 === 0","value":2.2},"value":1.1},"labels":false,"ticks":false,"title":null}},
  "y":{"field":"sel","type":"quantitative","scale":{"domain":[-0.05,1.05],"nice":false,"zero":false},"axis":{"orient":"right","values":[0,0.125,0.25,0.375,0.5,0.625,0.75,0.875,1],"grid":true,"gridWidth":{"condition":{"test":"datum.value * 4 % 1 === 0","value":2.2},"value":1.1},"labels":false,"ticks":false,"domain":true,"domainColor":"#D9D9D9","domainWidth":45,"domainCap":"butt","offset":23,"title":"1997","titleX":0,"titleY":42.5,"titleAlign":"center","titleBaseline":"middle","titleAngle":90,"titleFontSize":22.6,"titleColor":"#1A1A1A"}},
  "color":{"field":"case","type":"nominal","scale":{"domain":["AG1","AG1c"],"range":["#F8766D","#00BFC4"]},"legend":null}
 },
 "layer":[
  {"mark":{"type":"point","filled":true,"size":110,"opacity":1},"encoding":{"shape":{"field":"case","type":"nominal","scale":{"range":["circle","triangle-up"]},"legend":null},"order":{"field":"case","sort":"descending"}}},
  {"mark":{"type":"line","strokeWidth":2.7},"encoding":{}}
 ]},
{"width":442,"height":85,"transform":[{"filter":"datum.sex === 'female' && datum.year === 1998"}],
 "encoding":{
  "x":{"field":"size","type":"quantitative","scale":{"domain":[19.75,190.25],"nice":false,"zero":false},"axis":{"orient":"bottom","values":[25,50,75,100,125,150,175],"grid":true,"gridWidth":{"condition":{"test":"datum.value % 50 === 0","value":2.2},"value":1.1},"labels":false,"ticks":false,"title":null}},
  "y":{"field":"sel","type":"quantitative","scale":{"domain":[-0.05,1.05],"nice":false,"zero":false},"axis":{"orient":"left","values":[0,0.125,0.25,0.375,0.5,0.625,0.75,0.875,1],"grid":true,"gridWidth":{"condition":{"test":"datum.value * 4 % 1 === 0","value":2.2},"value":1.1},"labelExpr":"datum.value * 4 % 1 === 0 ? format(datum.value, '.2f') : ''","tickSize":7,"tickWidth":2,"tickOpacity":{"condition":{"test":"datum.value * 4 % 1 === 0","value":1},"value":0},"labelPadding":7,"labelBaseline":"middle","title":null}},
  "color":{"field":"case","type":"nominal","scale":{"domain":["AG1","AG1c"],"range":["#F8766D","#00BFC4"]},"legend":null}
 },
 "layer":[
  {"mark":{"type":"point","filled":true,"size":110,"opacity":1},"encoding":{"shape":{"field":"case","type":"nominal","scale":{"range":["circle","triangle-up"]},"legend":null},"order":{"field":"case","sort":"descending"}}},
  {"mark":{"type":"line","strokeWidth":2.7},"encoding":{}}
 ]},
{"width":442,"height":85,"transform":[{"filter":"datum.sex === 'male' && datum.year === 1998"}],
 "encoding":{
  "x":{"field":"size","type":"quantitative","scale":{"domain":[19.75,190.25],"nice":false,"zero":false},"axis":{"orient":"bottom","values":[25,50,75,100,125,150,175],"grid":true,"gridWidth":{"condition":{"test":"datum.value % 50 === 0","value":2.2},"value":1.1},"labels":false,"ticks":false,"title":null}},
  "y":{"field":"sel","type":"quantitative","scale":{"domain":[-0.05,1.05],"nice":false,"zero":false},"axis":{"orient":"right","values":[0,0.125,0.25,0.375,0.5,0.625,0.75,0.875,1],"grid":true,"gridWidth":{"condition":{"test":"datum.value * 4 % 1 === 0","value":2.2},"value":1.1},"labels":false,"ticks":false,"domain":true,"domainColor":"#D9D9D9","domainWidth":45,"domainCap":"butt","offset":23,"title":"1998","titleX":0,"titleY":42.5,"titleAlign":"center","titleBaseline":"middle","titleAngle":90,"titleFontSize":22.6,"titleColor":"#1A1A1A"}},
  "color":{"field":"case","type":"nominal","scale":{"domain":["AG1","AG1c"],"range":["#F8766D","#00BFC4"]},"legend":null}
 },
 "layer":[
  {"mark":{"type":"point","filled":true,"size":110,"opacity":1},"encoding":{"shape":{"field":"case","type":"nominal","scale":{"range":["circle","triangle-up"]},"legend":null},"order":{"field":"case","sort":"descending"}}},
  {"mark":{"type":"line","strokeWidth":2.7},"encoding":{}}
 ]},
{"width":442,"height":85,"transform":[{"filter":"datum.sex === 'female' && datum.year === 1999"}],
 "encoding":{
  "x":{"field":"size","type":"quantitative","scale":{"domain":[19.75,190.25],"nice":false,"zero":false},"axis":{"orient":"bottom","values":[25,50,75,100,125,150,175],"grid":true,"gridWidth":{"condition":{"test":"datum.value % 50 === 0","value":2.2},"value":1.1},"labelExpr":"datum.value % 50 === 0 ? datum.label : ''","tickSize":7,"tickWidth":2,"tickOpacity":{"condition":{"test":"datum.value % 50 === 0","value":1},"value":0},"labelPadding":5,"title":"size (mm CW)","titleX":450,"titleY":50,"titleAlign":"center","titleBaseline":"middle","titleAngle":0}},
  "y":{"field":"sel","type":"quantitative","scale":{"domain":[-0.05,1.05],"nice":false,"zero":false},"axis":{"orient":"left","values":[0,0.125,0.25,0.375,0.5,0.625,0.75,0.875,1],"grid":true,"gridWidth":{"condition":{"test":"datum.value * 4 % 1 === 0","value":2.2},"value":1.1},"labelExpr":"datum.value * 4 % 1 === 0 ? format(datum.value, '.2f') : ''","tickSize":7,"tickWidth":2,"tickOpacity":{"condition":{"test":"datum.value * 4 % 1 === 0","value":1},"value":0},"labelPadding":7,"labelBaseline":"middle","title":null}},
  "color":{"field":"case","type":"nominal","scale":{"domain":["AG1","AG1c"],"range":["#F8766D","#00BFC4"]},"legend":null}
 },
 "layer":[
  {"mark":{"type":"point","filled":true,"size":110,"opacity":1},"encoding":{"shape":{"field":"case","type":"nominal","scale":{"range":["circle","triangle-up"]},"legend":null},"order":{"field":"case","sort":"descending"}}},
  {"mark":{"type":"line","strokeWidth":2.7},"encoding":{}}
 ]},
{"width":442,"height":85,"transform":[{"filter":"datum.sex === 'male' && datum.year === 1999"}],
 "encoding":{
  "x":{"field":"size","type":"quantitative","scale":{"domain":[19.75,190.25],"nice":false,"zero":false},"axis":{"orient":"bottom","values":[25,50,75,100,125,150,175],"grid":true,"gridWidth":{"condition":{"test":"datum.value % 50 === 0","value":2.2},"value":1.1},"labelExpr":"datum.value % 50 === 0 ? datum.label : ''","tickSize":7,"tickWidth":2,"tickOpacity":{"condition":{"test":"datum.value % 50 === 0","value":1},"value":0},"labelPadding":5,"title":null}},
  "y":{"field":"sel","type":"quantitative","scale":{"domain":[-0.05,1.05],"nice":false,"zero":false},"axis":{"orient":"right","values":[0,0.125,0.25,0.375,0.5,0.625,0.75,0.875,1],"grid":true,"gridWidth":{"condition":{"test":"datum.value * 4 % 1 === 0","value":2.2},"value":1.1},"labels":false,"ticks":false,"domain":true,"domainColor":"#D9D9D9","domainWidth":45,"domainCap":"butt","offset":23,"title":"1999","titleX":0,"titleY":42.5,"titleAlign":"center","titleBaseline":"middle","titleAngle":90,"titleFontSize":22.6,"titleColor":"#1A1A1A"}},
  "color":{"field":"case","type":"nominal","scale":{"domain":["AG1","AG1c"],"range":["#F8766D","#00BFC4"]},"legend":null}
 },
 "layer":[
  {"mark":{"type":"point","filled":true,"size":110,"opacity":1},"encoding":{"shape":{"field":"case","type":"nominal","scale":{"range":["circle","triangle-up"]},"legend":null},"order":{"field":"case","sort":"descending"}}},
  {"mark":{"type":"line","strokeWidth":2.7},"encoding":{}}
 ]}
],
"config":{
 "font":"Liberation Sans",
 "view":{"fill":"#EBEBEB","stroke":null},
 "axis":{"labelFontSize":22.6,"labelColor":"#4D4D4D","titleFontSize":28.3,"titleFontWeight":"normal","titleColor":"#000000","gridColor":"#FFFFFF","domain":false,"tickColor":"#333333","labelOverlap":false,"labelFlush":false,"labelBound":false},
 "legend":{"labelFont":"Liberation Sans","titleFont":"Liberation Sans"}
}
}
